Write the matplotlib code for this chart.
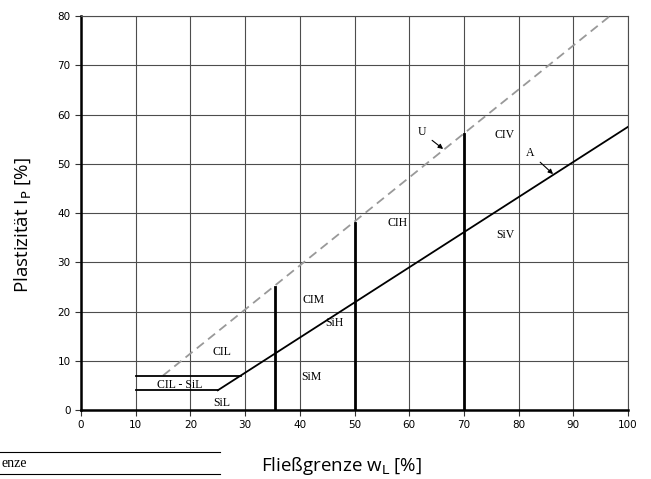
import numpy as np
from matplotlib import pyplot as plt
from matplotlib.lines import Line2D

# boundary lines of the plasticity chart
a_line_x = [25, 100]
a_line_y = [4, 57.5]
u_line_x = [15, 96.7]
u_line_y = [7, 80]
upper_flat_x = [10, 29.2]
upper_flat_y = [7, 7]
lower_flat_x = [10, 25]
lower_flat_y = [4, 4]

# vertical separators (wL) and their heights
vert_x = [35.5, 50, 70]
vert_top = [25, 38, 56]

# region labels
region_names = ["CIL", "CIL - SiL", "SiL", "SiM", "CIM", "SiH", "CIH", "SiV", "CIV"]
region_x = [25.8, 18.1, 25.8, 42.2, 42.6, 46.3, 57.8, 77.5, 77.5]
region_y = [11.8, 5.1, 1.4, 6.7, 22.3, 17.7, 38.0, 35.5, 55.8]

x_ticks = np.arange(0, 101, 10)
y_ticks = np.arange(0, 81, 10)

fig = plt.figure(figsize=(6.51, 4.79), dpi=100)
ax = fig.add_axes([0.1244, 0.144, 0.8403, 0.8226])

ax.set_xlim(0, 100)
ax.set_ylim(0, 80)
ax.set_xticks(x_ticks)
ax.set_yticks(y_ticks)
ax.grid(True, color="#4d4d4d", linewidth=0.8)
ax.tick_params(direction="out", length=4, width=0.8, labelsize=7.5, color="#333333")

for s in ["top", "right"]:
    ax.spines[s].set_color("#4d4d4d")
    ax.spines[s].set_linewidth(0.8)
for s in ["left", "bottom"]:
    ax.spines[s].set_color("black")
    ax.spines[s].set_linewidth(1.8)

# A and U lines
ax.plot(a_line_x, a_line_y, color="black", linewidth=1.3, zorder=3)
ax.plot(u_line_x, u_line_y, color="#999999", linewidth=1.3, linestyle=(0, (5, 3)), zorder=3)
ax.plot(upper_flat_x, upper_flat_y, color="black", linewidth=1.3, zorder=3)
ax.plot(lower_flat_x, lower_flat_y, color="black", linewidth=1.3, zorder=3)

for vx, vt in zip(vert_x, vert_top):
    ax.plot([vx, vx], [0, vt], color="black", linewidth=2.0, zorder=3)

for name, tx, ty in zip(region_names, region_x, region_y):
    ax.text(tx, ty, name, family="Liberation Serif", fontsize=8.5,
            ha="center", va="center", zorder=4)

# line name callouts
ax.annotate("U", xy=(66.2, 53), xytext=(62.3, 56.4), family="Liberation Serif",
            fontsize=8.5, ha="center", va="center",
            arrowprops=dict(arrowstyle="-|>", color="black", lw=0.8,
                            mutation_scale=7, shrinkA=3, shrinkB=0))
ax.annotate("A", xy=(86.3, 47.9), xytext=(82.1, 52.2), family="Liberation Serif",
            fontsize=8.5, ha="center", va="center",
            arrowprops=dict(arrowstyle="-|>", color="black", lw=0.8,
                            mutation_scale=7, shrinkA=3, shrinkB=0))

ax.set_ylabel("Plastizität I$_\\mathrm{P}$ [%]", family="Open Sans", fontsize=13.5)
ax.yaxis.set_label_coords(-0.088, 0.47)
fig.text(0.524, 0.004, "Fließgrenze w$_\\mathrm{L}$ [%]", family="Open Sans",
         fontsize=13.5, ha="center", va="bottom")

# remainder of a caption at the bottom left
fig.add_artist(Line2D([0, 0.338], [0.056, 0.056], color="black", linewidth=0.8))
fig.add_artist(Line2D([0, 0.338], [0.010, 0.010], color="black", linewidth=0.8))
fig.text(0.002, 0.032, "enze", family="Liberation Serif", fontsize=10, va="center")

plt.savefig("out.png", dpi=100)
